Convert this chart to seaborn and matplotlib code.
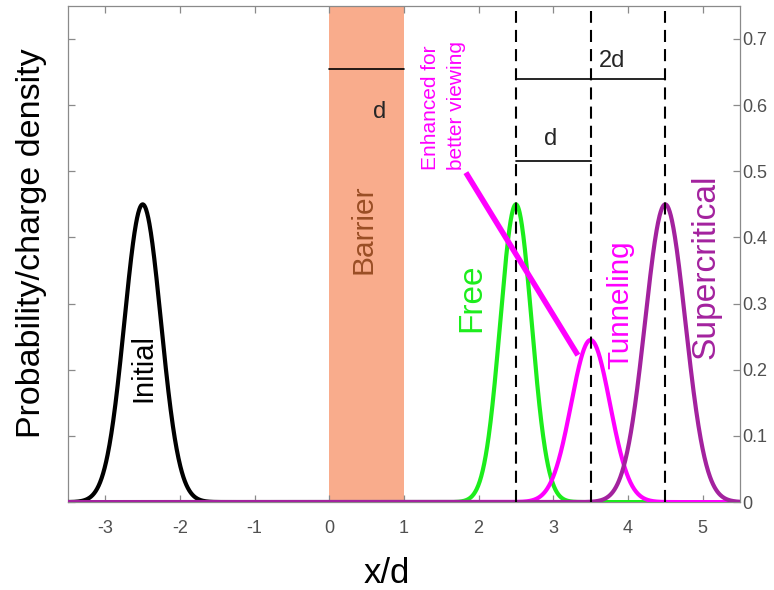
import numpy as np
import pandas as pd
import matplotlib
matplotlib.use("Agg")
import matplotlib.pyplot as plt
import seaborn as sns
from matplotlib import font_manager

# Wave packets: label, centre (x/d), peak density, gaussian width (x/d)
packets = ["Initial", "Free", "Tunneling", "Supercritical"]
centres = [-2.5, 2.5, 3.5, 4.5]
peaks = [0.45, 0.45, 0.245, 0.45]
widths = [0.245, 0.21, 0.26, 0.27]
colors = ["#000000", "#1ced1c", "#ff00ff", "#a3229e"]

x_ticks = [-3, -2, -1, 0, 1, 2, 3, 4, 5]
x_tick_labels = ["-3", "-2", "-1", "0", "1", "2", "3", "4", "5"]
y_ticks = [0, 0.1, 0.2, 0.3, 0.4, 0.5, 0.6, 0.7]
y_tick_labels = ["0", "0.1", "0.2", "0.3", "0.4", "0.5", "0.6", "0.7"]

barrier_span = [0, 1]
marker_positions = [2.5, 3.5, 4.5]

sns.set_style("ticks")
installed = {f.name for f in font_manager.fontManager.ttflist}
base_font = "Liberation Sans" if "Liberation Sans" in installed else "DejaVu Sans"
has_narrow = "Liberation Sans Narrow" in installed
narrow_font = "Liberation Sans Narrow" if has_narrow else base_font
plt.rcParams["font.family"] = [base_font, "DejaVu Sans"]
plt.rcParams["axes.unicode_minus"] = False

x = np.linspace(-3.5, 5.5, 1801)
frames = []
for name, c, p, w in zip(packets, centres, peaks, widths):
    frames.append(pd.DataFrame({"x": x,
                                "density": p * np.exp(-(x - c) ** 2 / (2 * w ** 2)),
                                "packet": name}))
df = pd.concat(frames, ignore_index=True)

fig = plt.figure(figsize=(7.74, 5.9), dpi=100)
ax = fig.add_axes([0.0879, 0.149, 0.868, 0.841])

ax.axvspan(barrier_span[0], barrier_span[1], color="#f9ac8c", lw=0, zorder=0)

sns.lineplot(data=df, x="x", y="density", hue="packet", hue_order=packets,
             palette=dict(zip(packets, colors)), linewidth=3, legend=False,
             ax=ax, zorder=3)

# dashed reference positions
for xp in marker_positions:
    ax.plot([xp, xp], [0, 0.742], color="black", lw=1.5,
            dashes=(5.8, 3.4), zorder=4)

# width brackets
ax.plot([0, 1], [0.654, 0.654], color="black", lw=1.2, zorder=4)
ax.plot([2.5, 4.5], [0.64, 0.64], color="black", lw=1.2, zorder=4)
ax.plot([2.5, 3.5], [0.516, 0.516], color="black", lw=1.2, zorder=4)
ax.text(0.68, 0.59, "d", fontsize=17, ha="center", va="center")
ax.text(3.79, 0.666, "2d", fontsize=17, ha="center", va="center")
ax.text(2.97, 0.549, "d", fontsize=17, ha="center", va="center")

# pointer from the note to the tunneling peak
ax.plot([1.83, 3.33], [0.498, 0.222], color="#ff00ff", lw=4,
        solid_capstyle="butt", zorder=5)
ax.text(1.53, 0.502, "Enhanced for\nbetter viewing", rotation=90,
        color="#ff00ff", fontsize=17.5 if has_narrow else 15,
        family=[narrow_font, "DejaVu Sans"], ha="center", va="bottom",
        multialignment="left", linespacing=1.45)

ax.text(-2.49, 0.203, "Initial", rotation=90, fontsize=21,
        color="black", ha="center", va="center")
ax.text(0.455, 0.413, "Barrier", rotation=90,
        fontsize=25 if has_narrow else 21.5,
        family=[narrow_font, "DejaVu Sans"],
        color="#9a4e25", ha="center", va="center")
ax.text(1.91, 0.309, "Free", rotation=90, fontsize=24,
        color=colors[1], ha="center", va="center")
ax.text(3.9, 0.298, "Tunneling", rotation=90, fontsize=21.3,
        color=colors[2], ha="center", va="center")
ax.text(5.05, 0.355, "Supercritical", rotation=90, fontsize=24.2,
        color=colors[3], ha="center", va="center")

ax.set_xlim(-3.5, 5.5)
ax.set_ylim(0, 0.75)
ax.set_xticks(x_ticks)
ax.set_xticklabels(x_tick_labels)
ax.set_yticks(y_ticks)
ax.set_yticklabels(y_tick_labels)
ax.set_xlabel("")
ax.set_ylabel("")

for s in ax.spines.values():
    s.set_color("#8a8a8a")
    s.set_linewidth(0.9)
    s.set_visible(True)

ax.tick_params(axis="both", direction="in", length=5, width=0.9,
               color="#8a8a8a", labelsize=13, labelcolor="#505050",
               top=True, right=True)
ax.tick_params(axis="x", pad=13)
ax.tick_params(axis="y", labelleft=False, labelright=True, pad=2)

fig.text(32 / 774, 1 - 243 / 590, "Probability/charge density", rotation=90,
         fontsize=29.5 if has_narrow else 24.5,
         family=[narrow_font, "DejaVu Sans"],
         ha="center", va="center", color="black")
fig.text(387 / 774, (590 - 583) / 590, "x/d", fontsize=25,
         ha="center", va="baseline", color="black")

fig.savefig("out.png", dpi=100)
